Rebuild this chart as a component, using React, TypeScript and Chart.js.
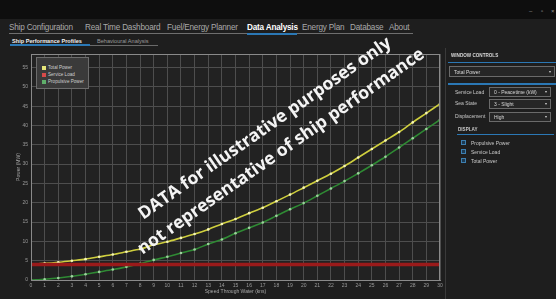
import React, { useEffect, useRef } from "react";
import { Chart, registerables } from "chart.js";

Chart.register(...registerables);

const speeds = [0, 1, 2, 3, 4, 5, 6, 7, 8, 9, 10, 11, 12, 13, 14, 15, 16, 17, 18, 19, 20, 21, 22, 23, 24, 25, 26, 27, 28, 29, 30];
const totalPower = [4.1, 4.3, 4.6, 5.0, 5.4, 6.0, 6.6, 7.3, 8.0, 9.1, 9.9, 10.9, 11.9, 13.1, 14.5, 15.8, 17.3, 18.7, 20.4, 22.1, 23.9, 25.7, 27.5, 29.5, 31.7, 33.9, 36.1, 38.3, 40.8, 43.2, 45.6];
const serviceLoad = [4.0, 4.0, 4.0, 4.0, 4.0, 4.0, 4.0, 4.0, 4.0, 4.0, 4.0, 4.0, 4.0, 4.0, 4.0, 4.0, 4.0, 4.0, 4.0, 4.0, 4.0, 4.0, 4.0, 4.0, 4.0, 4.0, 4.0, 4.0, 4.0, 4.0, 4.0];
const propulsivePower = [0.0, 0.2, 0.5, 0.95, 1.5, 2.1, 2.7, 3.4, 4.2, 5.2, 6.0, 7.0, 7.9, 9.3, 10.5, 12.1, 13.5, 14.9, 16.6, 18.3, 19.9, 21.8, 23.7, 25.6, 27.6, 29.7, 31.9, 34.3, 36.7, 39.1, 41.5];

const seriesNames = ["Total Power", "Service Load", "Propulsive Power"];
const seriesColors = ["#cfcf3e", "#9a1a1a", "#2f8a34"];
const yMax = 58.5;
const yStep = 5;

const menuItems = [
  { label: "Ship Configuration", x: 9, active: false },
  { label: "Real Time Dashboard", x: 85, active: false },
  { label: "Fuel/Energy Planner", x: 167, active: false },
  { label: "Data Analysis", x: 247, active: true },
  { label: "Energy Plan", x: 302, active: false },
  { label: "Database", x: 350, active: false },
  { label: "About", x: 389, active: false },
];

const frame = {
  id: "frame",
  beforeDraw(chart: any) {
    const { ctx, chartArea: a } = chart;
    ctx.save();
    ctx.fillStyle = "#222222";
    ctx.fillRect(a.left, a.top, a.right - a.left, a.bottom - a.top);
    ctx.restore();
  },
  afterDraw(chart: any) {
    const { ctx, chartArea: a } = chart;
    ctx.save();
    ctx.strokeStyle = "#8a8a8a";
    ctx.lineWidth = 1;
    ctx.strokeRect(a.left + 0.5, a.top + 0.5, a.right - a.left - 1, a.bottom - a.top);
    ctx.restore();
  },
};

function PerfChart() {
  const ref = useRef<HTMLCanvasElement>(null);
  useEffect(() => {
    if (!ref.current) return;
    const pts = (arr: number[]) => speeds.map((s, i) => ({ x: s, y: arr[i] }));
    const chart = new Chart(ref.current, {
      type: "line",
      data: {
        datasets: [
          {
            label: seriesNames[1],
            data: pts(serviceLoad),
            borderColor: seriesColors[1],
            borderWidth: 3.5,
            pointRadius: 0,
          },
          {
            label: seriesNames[2],
            data: pts(propulsivePower),
            borderColor: seriesColors[2],
            borderWidth: 1.6,
            pointRadius: 1.3,
            pointBorderWidth: 0,
            pointBackgroundColor: "#9fd29f",
            tension: 0.3,
          },
          {
            label: seriesNames[0],
            data: pts(totalPower),
            borderColor: seriesColors[0],
            borderWidth: 1.6,
            pointRadius: 1.3,
            pointBorderWidth: 0,
            pointBackgroundColor: "#f6f6b8",
            tension: 0.3,
          },
        ],
      },
      options: {
        animation: false,
        responsive: false,
        maintainAspectRatio: false,
        layout: { padding: { top: 6, right: 6, left: 14, bottom: 0 } },
        plugins: { legend: { display: false }, tooltip: { enabled: false } },
        scales: {
          x: {
            type: "linear",
            min: 0,
            max: 30,
            ticks: { stepSize: 1, color: "#9a9a9a", font: { size: 5, family: "Liberation Sans" }, padding: 3, maxRotation: 0, autoSkip: false },
            grid: { color: "#4e4e4e", drawTicks: false, lineWidth: 1 },
            border: { color: "#8a8a8a", width: 1 },
            title: { display: true, text: "Speed Through Water (kns)", color: "#a8a8a8", font: { size: 5, family: "Liberation Sans" }, padding: { top: 0, bottom: 4 } },
            afterFit: (s: any) => { s.height = 19; },
          },
          y: {
            type: "linear",
            min: 0,
            max: yMax,
            afterBuildTicks: (s: any) => { s.ticks = s.ticks.filter((t: any) => t.value % yStep === 0); },
            ticks: { stepSize: yStep, color: "#9a9a9a", font: { size: 5, family: "Liberation Sans" }, padding: 3 },
            grid: { color: "#4e4e4e", drawTicks: false, lineWidth: 1 },
            border: { color: "#8a8a8a", width: 1 },
            title: { display: true, text: "Power (MW)", color: "#a8a8a8", font: { size: 5, family: "Liberation Sans" }, padding: { top: 2, bottom: 0 } },
            afterFit: (s: any) => { s.width = 17; },
          },
        },
      },
      plugins: [frame],
    });
    return () => chart.destroy();
  }, []);
  return <canvas ref={ref} width={446} height={251} style={{ position: "absolute", left: 0, top: 48, width: 446, height: 251 }} />;
}

const small: React.CSSProperties = { position: "absolute", fontSize: 5, color: "#c8c8c8", whiteSpace: "nowrap", lineHeight: "6px" };

function Dropdown({ x, y, w, h, text }: { x: number; y: number; w: number; h: number; text: string }) {
  return (
    <div style={{ position: "absolute", left: x, top: y, width: w, height: h, background: "#262626", border: "1px solid #6a6a6a", boxSizing: "border-box" }}>
      <div style={{ ...small, left: 4, top: (h - 8) / 2, color: "#d8d8d8" }}>{text}</div>
      <div style={{ ...small, right: 3, top: (h - 8) / 2, color: "#cfcfcf", fontSize: 4 }}>▾</div>
    </div>
  );
}

export default function App() {
  return (
    <div style={{ position: "fixed", left: 0, top: 0, width: 556, height: 299, background: "#1e1e1e", overflow: "hidden", fontFamily: "'Liberation Sans', sans-serif" }}>
      <div style={{ position: "absolute", left: 0, top: 0, width: 556, height: 19, background: "#0e0e0e" }} />
      <div style={{ position: "absolute", left: 529, top: 8, color: "#999", fontSize: 6 }}>–</div>
      <div style={{ position: "absolute", left: 541, top: 8, color: "#999", fontSize: 6 }}>▫</div>
      <div style={{ position: "absolute", left: 551, top: 8, color: "#999", fontSize: 6 }}>×</div>

      {menuItems.map((m) => (
        <div key={m.label} style={{ position: "absolute", left: m.x, top: 23, fontSize: 8.2, color: m.active ? "#ffffff" : "#a9a9a9", fontWeight: m.active ? "bold" : "normal", whiteSpace: "nowrap", letterSpacing: -0.2 }}>{m.label}</div>
      ))}
      <div style={{ position: "absolute", left: 9, top: 33, width: 404, height: 1, background: "#6e6e6e" }} />
      <div style={{ position: "absolute", left: 247, top: 33, width: 50, height: 2, background: "#2b78b5" }} />

      <div style={{ position: "absolute", left: 12, top: 38, fontSize: 5.6, color: "#f0f0f0", fontWeight: "bold", whiteSpace: "nowrap" }}>Ship Performance Profiles</div>
      <div style={{ position: "absolute", left: 97, top: 38, fontSize: 5.6, color: "#9a9a9a", whiteSpace: "nowrap" }}>Behavioural Analysis</div>
      <div style={{ position: "absolute", left: 10, top: 45, width: 148, height: 1, background: "#6a6a6a" }} />
      <div style={{ position: "absolute", left: 10, top: 44, width: 80, height: 2, background: "#2b78b5" }} />

      <PerfChart />

      <div style={{ position: "absolute", left: 36, top: 57, width: 53, height: 32, background: "#3a3a3a", border: "1px solid #6c6c6c", boxSizing: "border-box" }}>
        {seriesNames.map((n, i) => (
          <div key={n} style={{ position: "absolute", left: 5, top: 7 + i * 7, height: 6 }}>
            <div style={{ position: "absolute", left: 0, top: 1, width: 4, height: 4, background: i === 0 ? "#e6e67a" : i === 1 ? "#d64a4a" : "#5fae6a" }} />
            <div style={{ ...small, left: 6, top: 0, color: "#cfcfcf", fontSize: 4.6 }}>{n}</div>
          </div>
        ))}
      </div>

      <div style={{ position: "absolute", left: 273, top: 140, width: 0, height: 0 }}>
        <div style={{ position: "absolute", left: -250, top: -30, width: 500, textAlign: "center", transform: "rotate(-35deg)", transformOrigin: "250px 30px", color: "#f4f4f4", fontFamily: "'Open Sans', sans-serif", fontWeight: "bold", fontSize: 17.5, lineHeight: "28px", whiteSpace: "nowrap" }}>
          <div>DATA for illustrative purposes only</div>
          <div>not representative of ship performance</div>
        </div>
      </div>

      <div style={{ position: "absolute", left: 445, top: 48, width: 1, height: 251, background: "#3a3a3a" }} />
      <div style={{ ...small, left: 451, top: 53, fontWeight: "bold", fontSize: 4.6, color: "#d8d8d8" }}>WINDOW CONTROLS</div>
      <div style={{ position: "absolute", left: 448, top: 62, width: 108, height: 1, background: "#2b78b5" }} />
      <Dropdown x={449} y={66} w={106} h={11} text="Total Power" />
      <div style={{ position: "absolute", left: 448, top: 83, width: 108, height: 2, background: "#2b78b5" }} />
      <div style={{ ...small, left: 455, top: 89 }}>Service Load</div>
      <Dropdown x={489} y={87} w={62} h={10} text="0 - Peacetime (kW)" />
      <div style={{ ...small, left: 455, top: 100 }}>Sea State</div>
      <Dropdown x={489} y={99} w={62} h={10} text="3 - Slight" />
      <div style={{ ...small, left: 455, top: 113 }}>Displacement</div>
      <Dropdown x={489} y={112} w={62} h={10} text="High" />
      <div style={{ ...small, left: 458, top: 127, fontWeight: "bold", fontSize: 4.6 }}>DISPLAY</div>
      <div style={{ position: "absolute", left: 457, top: 134, width: 97, height: 1, background: "#2b78b5" }} />
      {["Propulsive Power", "Service Load", "Total Power"].map((t, i) => (
        <div key={t}>
          <div style={{ position: "absolute", left: 461, top: 140 + i * 9, width: 5, height: 5, border: "1px solid #3d7fb0", background: "#1d3a52", boxSizing: "border-box" }} />
          <div style={{ ...small, left: 471, top: 140 + i * 9 }}>{t}</div>
        </div>
      ))}
    </div>
  );
}
